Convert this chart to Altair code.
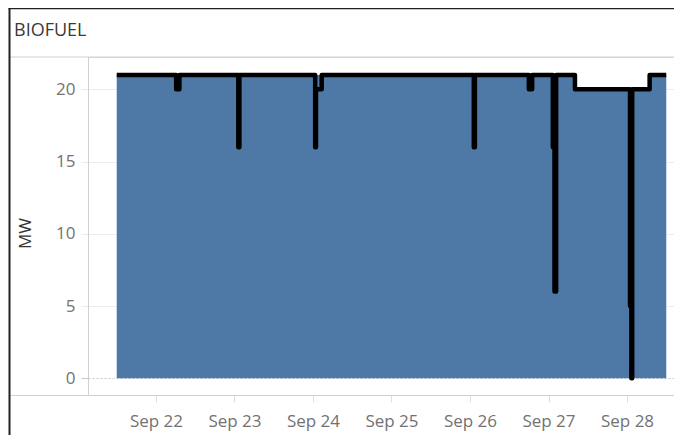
import altair as alt
import pandas as pd

# ---- data ----
line_times = [
    "2023-09-21T12:00", "2023-09-22T06:10", "2023-09-22T07:10",
    "2023-09-23T01:10", "2023-09-23T01:30",
    "2023-09-24T00:40", "2023-09-24T00:55", "2023-09-24T02:40",
    "2023-09-26T01:10", "2023-09-26T01:30",
    "2023-09-26T18:00", "2023-09-26T19:00",
    "2023-09-27T01:20", "2023-09-27T01:50", "2023-09-27T02:20",
    "2023-09-27T08:05",
    "2023-09-28T00:55", "2023-09-28T01:20", "2023-09-28T01:35",
    "2023-09-28T06:55", "2023-09-28T12:00",
]
line_mw = [21, 20, 21, 16, 21, 16, 20, 21, 16, 21, 20, 21, 16, 6, 21, 20, 5, 0, 20, 21, 21]

area_times = ["2023-09-21T12:00", "2023-09-27T08:05", "2023-09-28T06:55", "2023-09-28T12:00"]
area_mw = [21, 20, 21, 21]

y_ticks = [0, 5, 10, 15, 20]
title_text = "BIOFUEL"
y_title = "MW"

FONT = "Open Sans"
W, H = 586, 338

line_df = pd.DataFrame({"t": line_times, "mw": line_mw})
area_df = pd.DataFrame({"t": area_times, "mw": area_mw})
one = pd.DataFrame({"a": [0]})

xscale = alt.Scale(domain=[
    alt.DateTime(year=2023, month=9, date=21, hours=3, minutes=13),
    alt.DateTime(year=2023, month=9, date=28, hours=14, minutes=22),
])
yscale = alt.Scale(domain=[-1.156, 22.24], nice=False, zero=False)

xaxis = alt.Axis(
    title=None, format="%b %d", tickCount=alt.TimeIntervalStep(interval="day", step=1),
    grid=False, domain=False, ticks=True, tickSize=7, tickColor="#dedede",
    labelFont=FONT, labelFontSize=17, labelColor="#727272", labelPadding=19,
    labelBaseline="middle", labelFlush=False, labelOverlap=False,
)
yaxis = alt.Axis(
    title=y_title, values=y_ticks, grid=True,
    gridColor={"condition": {"test": "datum.value === 0", "value": "#c8c8c8"}, "value": "#ececec"},
    gridDash={"condition": {"test": "datum.value === 0", "value": [2, 2]}, "value": []},
    domain=True, domainColor="#d0d0d0", ticks=True, tickSize=7,
    tickColor={"condition": {"test": "datum.value === 0", "value": "#c8c8c8"}, "value": "#ececec"},
    labelFont=FONT, labelFontSize=17, labelColor="#727272", labelPadding=6,
    titleFont=FONT, titleFontSize=17, titleColor="#333333", titleFontWeight="normal",
    titleX=-63, titleY=176, titleAlign="center", titleBaseline="middle",
)

area = alt.Chart(area_df).mark_area(color="#4e79a7", opacity=1, interpolate="step-after").encode(
    x=alt.X("t:T", scale=xscale, axis=xaxis),
    y=alt.Y("mw:Q", scale=yscale, axis=yaxis),
)
line = alt.Chart(line_df).mark_line(
    color="#000000", strokeWidth=4.5, interpolate="step-after", strokeJoin="round", strokeCap="butt"
).encode(x=alt.X("t:T", scale=xscale), y=alt.Y("mw:Q", scale=yscale))

def rule(x1, x2, y1, y2, color, width):
    return alt.Chart(one).mark_rule(color=color, strokeWidth=width).encode(
        x=alt.value(x1), x2=alt.value(x2), y=alt.value(y1), y2=alt.value(y2))

left_border = rule(-78.5, -78.5, -49, 378, "#222222", 2)
top_border = rule(-79.5, W, -48.5, -48.5, "#222222", 1.5)
header_line = rule(-78, W, 0, 0, "#d0d0d0", 1)
bottom_line = rule(-78, W, 338.5, 338.5, "#d0d0d0", 1)

header = alt.Chart(one).mark_text(
    text=title_text, font=FONT, fontSize=18, color="#3a3a3a", align="left", baseline="middle"
).encode(x=alt.value(-74), y=alt.value(-26))

chart = alt.layer(area, line, header_line, bottom_line, left_border, top_border, header).properties(
    width=W, height=H,
    autosize=alt.AutoSizeParams(type="none"),
    padding={"left": 80, "top": 49, "right": 0, "bottom": 40},
).configure_view(stroke=None).configure(background="white")

chart.save("out.html", embed_options={"renderer": "svg", "actions": False})
